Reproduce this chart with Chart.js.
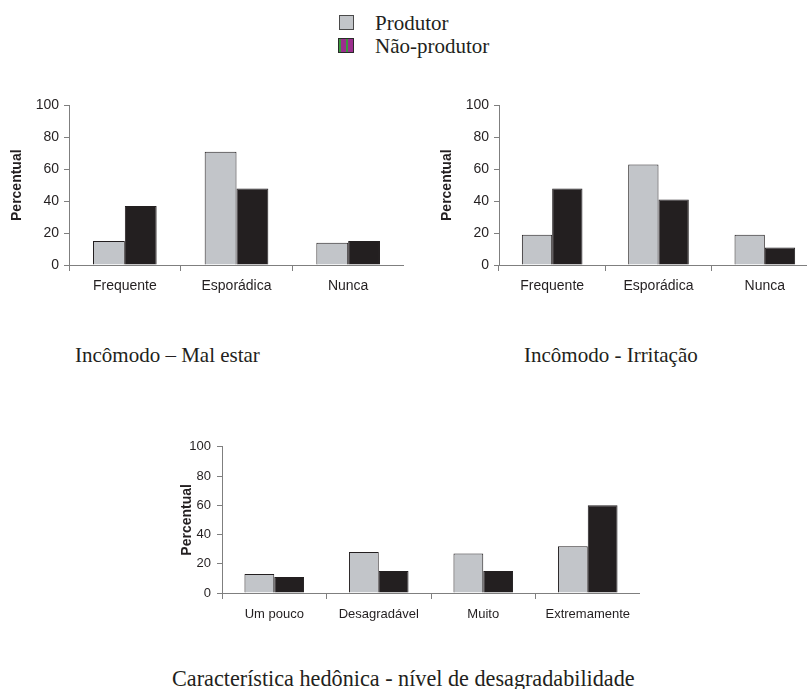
<!DOCTYPE html>
<html>
<head>
<meta charset="utf-8">
<script src="https://cdn.jsdelivr.net/npm/chart.js@4"></script>
<style>
  html, body { margin: 0; padding: 0; background: #fff; }
  body { width: 807px; height: 689px; position: relative; overflow: hidden; }
  canvas { position: absolute; }
  .txt { position: absolute; font-family: "Liberation Serif", "Times New Roman", serif; font-size: 21px; color: #231f20; white-space: nowrap; line-height: 1; }
  .icon { position: absolute; box-sizing: border-box; }
</style>
</head>
<body>

<!-- legend -->
<div class="icon" style="left:339px; top:15px; width:15px; height:15px; background:#c2c5c9; border:1.5px solid #4a4a4a;"></div>
<div class="icon" style="left:338px; top:38px; width:16px; height:15px; display:flex; border:1px solid #2a2a2a;">
  <div style="flex:1; background:#9c2f8e; border-left:2px solid #3c9a3e;"></div>
  <div style="flex:1; background:#9c2f8e; border-left:2px solid #3c9a3e;"></div>
</div>
<div class="txt" style="left:375px; top:13px;">Produtor</div>
<div class="txt" style="left:375px; top:36px;">Não-produtor</div>

<canvas id="malEstar" width="404" height="218" style="left:0px; top:92px;"></canvas>
<canvas id="irritacao" width="388" height="218" style="left:430px; top:92px;"></canvas>
<canvas id="hedonica" width="468" height="205" style="left:172px; top:433px;"></canvas>

<div class="txt" style="left:75px; top:345px;">Incômodo – Mal estar</div>
<div class="txt" style="left:524px; top:345px;">Incômodo - Irritação</div>
<div class="txt" style="left:172px; top:668px; font-size:22.2px;">Característica hedônica - nível de desagradabilidade</div>

<script>
// Dados
const incomodoLabels = ['Frequente', 'Esporádica', 'Nunca'];
const malEstarProdutor = [15, 71, 14];
const malEstarNaoProdutor = [37, 48, 15];
const irritacaoProdutor = [19, 63, 19];
const irritacaoNaoProdutor = [48, 41, 11];

const hedonicaLabels = ['Um pouco', 'Desagradável', 'Muito', 'Extremamente'];
const hedonicaProdutor = [13, 28, 27, 32];
const hedonicaNaoProdutor = [11, 15, 15, 60];

const yTicks = [0, 20, 40, 60, 80, 100];

const axisColor = '#7f7f7f';
const textColor = '#231f20';

function makeChart(id, labels, produtor, naoProdutor, o) {
    const ctx = document.getElementById(id).getContext('2d');
    return new Chart(ctx, {
        type: 'bar',
        data: {
            labels: labels,
            datasets: [{
                label: 'Produtor',
                data: produtor,
                backgroundColor: '#c2c5c9',
                borderColor: '#231f20',
                borderWidth: 1
            }, {
                label: 'Não-produtor',
                data: naoProdutor,
                backgroundColor: '#231f20',
                borderColor: '#231f20',
                borderWidth: 1
            }]
        },
        options: {
            responsive: false,
            animation: false,
            layout: { padding: { top: 10, right: 0, bottom: 0, left: 0 } },
            plugins: {
                legend: { display: false },
                tooltip: { enabled: false }
            },
            datasets: {
                bar: { barPercentage: 1, categoryPercentage: 0.57 }
            },
            scales: {
                x: {
                    grid: { display: true, drawOnChartArea: false, drawTicks: true, tickLength: 6, color: axisColor, offset: true },
                    border: { display: true, color: axisColor, width: 1 },
                    ticks: { color: textColor, padding: o.xPad, font: { family: 'Liberation Sans', size: o.fontSize } },
                    afterFit: (scale) => { scale.height = 45; }
                },
                y: {
                    min: 0,
                    max: 100,
                    afterBuildTicks: (scale) => { scale.ticks = yTicks.map(v => ({ value: v })); },
                    grid: { display: true, drawOnChartArea: false, drawTicks: true, tickLength: 5, color: axisColor },
                    border: { display: true, color: axisColor, width: 1 },
                    ticks: { color: textColor, padding: o.yPad, font: { family: 'Liberation Sans', size: o.fontSize } },
                    title: {
                        display: true,
                        text: 'Percentual',
                        color: textColor,
                        padding: { top: o.titlePad, bottom: 0 },
                        font: { family: 'Liberation Sans', size: 14, weight: 'bold' }
                    },
                    afterFit: (scale) => { scale.width = o.yWidth; }
                }
            }
        }
    });
}

makeChart('malEstar', incomodoLabels, malEstarProdutor, malEstarNaoProdutor,
    { fontSize: 14, xPad: 7, yPad: 5, titlePad: 9, yWidth: 69 });
makeChart('irritacao', incomodoLabels, irritacaoProdutor, irritacaoNaoProdutor,
    { fontSize: 14, xPad: 7, yPad: 5, titlePad: 9, yWidth: 69 });
makeChart('hedonica', hedonicaLabels, hedonicaProdutor, hedonicaNaoProdutor,
    { fontSize: 13, xPad: 8, yPad: 6, titlePad: 6.6, yWidth: 50 });
</script>
</body>
</html>
